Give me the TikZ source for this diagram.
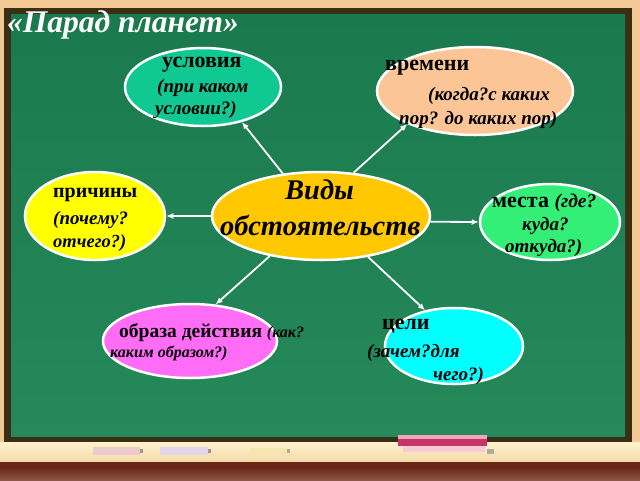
\documentclass[tikz,border=0pt]{standalone}
\usepackage{fontspec}
\setmainfont{Liberation Serif}
\usetikzlibrary{shapes.geometric,arrows.meta}
\definecolor{framepeach}{HTML}{F2C894}
\definecolor{darkbrown}{HTML}{3A2E14}
\definecolor{boardtop}{HTML}{1A7A4E}
\definecolor{boardbot}{HTML}{25895A}
\definecolor{traytop}{HTML}{FFF2CC}
\definecolor{traybot}{HTML}{F2D9A8}
\definecolor{stripA}{HTML}{6A2616}
\definecolor{stripB}{HTML}{8E5646}
\definecolor{cUsl}{HTML}{10C892}
\definecolor{cVrem}{HTML}{FCC596}
\definecolor{cPrich}{HTML}{FFFF00}
\definecolor{cVid}{HTML}{FFC800}
\definecolor{cMest}{HTML}{33EE77}
\definecolor{cObr}{HTML}{FF6CF5}
\definecolor{cCel}{HTML}{00FFFF}
\definecolor{chalkA}{HTML}{EBCBCB}
\definecolor{chalkB}{HTML}{E6D6EA}
\definecolor{chalkC}{HTML}{F4E6B0}
\definecolor{eraserA}{HTML}{C8336A}
\definecolor{eraserB}{HTML}{F2A6BC}
\begin{document}
\begin{tikzpicture}[x=1pt,y=-1pt,
  ell/.style={ellipse, draw=white, line width=2.5pt, inner sep=0pt},
  up/.style={anchor=west, inner sep=0pt, yshift=-3pt, text=black, font=\bfseries\fontsize{22}{22}\selectfont},
  it/.style={anchor=west, inner sep=0pt, yshift=-3pt, text=black, font=\bfseries\itshape\fontsize{19}{19}\selectfont},
  itsm/.style={anchor=west, inner sep=0pt, yshift=-3pt, text=black, font=\bfseries\itshape\fontsize{16}{16}\selectfont},
  big/.style={anchor=west, inner sep=0pt, text=black, font=\bfseries\itshape\fontsize{28.5}{28.5}\selectfont},
  arr/.style={draw=white, line width=1.8pt, -{Latex[length=7pt,width=6pt]}},
]
\useasboundingbox (0,0) rectangle (640,480);
% board frame
\fill[framepeach] (0,0) rectangle (640,480);
\fill[darkbrown] (4,8) rectangle (632,442);
\shade[top color=boardtop, bottom color=boardbot] (11,14) rectangle (625,436);
% tray
\shade[top color=traytop, bottom color=traybot] (0,442) rectangle (640,462);
\fill[stripA] (0,462) rectangle (640,467);
\shade[top color=stripA, bottom color=stripB] (0,467) rectangle (640,480);
% chalk and eraser
\fill[chalkA] (93,447) rectangle (140,455);
\fill[chalkB] (160,447) rectangle (208,455);
\fill[chalkC] (250,448) rectangle (287,455);
\fill[darkbrown!50] (140,449) rectangle (143,453);
\fill[darkbrown!50] (208,449) rectangle (211,453);
\fill[darkbrown!40] (287,449) rectangle (290,453);
\fill[eraserB!60!white] (403,446) rectangle (485,452);
\fill[eraserA] (398,438) rectangle (487,446);
\fill[eraserB] (398,435) rectangle (487,439);
\fill[darkbrown!40] (487,449) rectangle (494,454);
% title
\node[anchor=west, inner sep=0pt, text=white, font=\bfseries\itshape\fontsize{31.5}{31.5}\selectfont] (title) at (7,25) {«Парад планет»};
% ellipses
\node[ell, fill=cUsl, minimum width=156pt, minimum height=78pt] (usl) at (203,87) {};
\node[ell, fill=cVrem, minimum width=196pt, minimum height=88pt] (vrem) at (475,91) {};
\node[ell, fill=cPrich, minimum width=140pt, minimum height=88pt] (prich) at (95,216) {};
\node[ell, fill=cVid, minimum width=218pt, minimum height=88pt] (vid) at (321,216) {};
\node[ell, fill=cMest, minimum width=140pt, minimum height=76pt] (mest) at (550,222) {};
\node[ell, fill=cObr, minimum width=174pt, minimum height=74pt] (obr) at (190,341) {};
\node[ell, fill=cCel, minimum width=138pt, minimum height=76pt] (cel) at (454,346) {};
% arrows
\draw[arr] (vid.132) -- (usl.-42);
\draw[arr] (vid.53) -- (vrem.206);
\draw[arr] (vid.west) -- (prich.east);
\draw[arr] (vid.-3) -- (mest.west);
\draw[arr] (vid.218) -- (obr.55);
\draw[arr] (vid.-41) -- (cel.129);
% texts
\node[up] (uslA) at (162,62) {условия};
\node[it] (uslB) at (157,85) {(при каком};
\node[it] (uslC) at (155,107) {условии?)};
\node[up] (vremA) at (385,65) {времени};
\node[it] (vremB) at (428,93) {(когда?с каких};
\node[it] (vremC) at (399,117) {пор? до каких пор)};
\node[up, font=\bfseries\fontsize{20}{20}\selectfont] (prichA) at (53,192) {причины};
\node[it] (prichB) at (53,217) {(почему?};
\node[it, font=\bfseries\itshape\fontsize{18.5}{18.5}\selectfont] (prichC) at (53,240) {отчего?)};
\node[big] (vidA) at (285,190) {Виды};
\node[big] (vidB) at (220,225) {обстоятельств};
\node[up] (mestA) at (492,200) {места \itshape\fontsize{19.5}{19.5}\selectfont(где?};
\node[it] (mestB) at (522,223) {куда?};
\node[it] (mestC) at (505,245) {откуда?)};
\node[up, font=\bfseries\fontsize{19.5}{19.5}\selectfont] (obrA) at (119,330) {образа действия \itshape\fontsize{16}{16}\selectfont(как?};
\node[itsm] (obrB) at (110,350) {каким образом?)};
\node[up] (celA) at (382,323) {цели};
\node[it] (celB) at (367,350) {(зачем?для};
\node[it] (celC) at (433,373) {чего?)};
\end{tikzpicture}
\end{document}
